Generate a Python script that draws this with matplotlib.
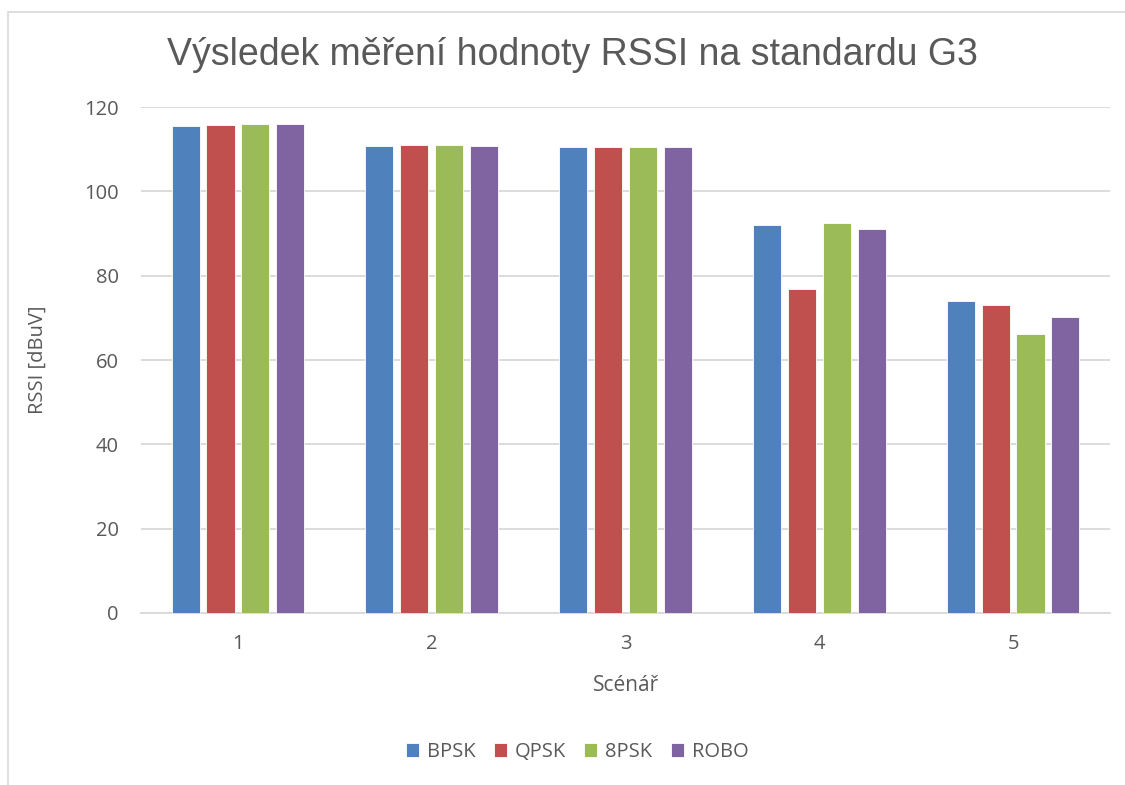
import numpy as np
import matplotlib
matplotlib.use("Agg")
import matplotlib.pyplot as plt
from matplotlib.patches import Rectangle

# Data
scenarios = ["1", "2", "3", "4", "5"]
series_names = ["BPSK", "QPSK", "8PSK", "ROBO"]
bpsk = [115.5, 110.8, 110.6, 92.1, 74.0]
qpsk = [115.7, 110.9, 110.6, 76.9, 73.1]
psk8 = [115.9, 110.9, 110.5, 92.4, 66.2]
robo = [116.0, 110.7, 110.5, 91.0, 70.1]
y_ticks = [0, 20, 40, 60, 80, 100, 120]

colors = ["#4F81BD", "#C0504D", "#9BBB59", "#8064A2"]
text_color = "#595959"
grid_color = "#D9D9D9"

plt.rcParams["font.family"] = ["Open Sans", "DejaVu Sans"]

fig = plt.figure(figsize=(11.25, 7.85), dpi=100)
ax = fig.add_axes([141 / 1125, 1 - 613 / 785, (1110 - 141) / 1125, (613 - 107) / 785])

# outer chart border
fig.patches.append(Rectangle((8 / 1125, -0.1), 1.2, 1.1 - 12 / 785, transform=fig.transFigure,
                             fill=False, edgecolor="#D9D9D9", linewidth=1.2))

x = np.arange(len(scenarios))
width = 0.145
step = 0.18
for i, (vals, name) in enumerate(zip([bpsk, qpsk, psk8, robo], series_names)):
    offs = (i - 1.5) * step
    ax.bar(x + offs, vals, width, color=colors[i], label=name, zorder=3,
           edgecolor="white", linewidth=0.6)

ax.set_xlim(-0.5, len(scenarios) - 0.5)
ax.set_ylim(0, 120)
ax.set_yticks(y_ticks)
ax.set_xticks(x)
ax.set_xticklabels(scenarios)
ax.grid(axis="y", color=grid_color, linewidth=1.3, zorder=0)
for s in ["top", "right", "left"]:
    ax.spines[s].set_visible(False)
ax.spines["bottom"].set_color(grid_color)
ax.spines["bottom"].set_linewidth(1.3)
ax.tick_params(axis="both", length=0, labelsize=14.5, colors=text_color)
ax.tick_params(axis="y", pad=16)
ax.tick_params(axis="x", pad=15)

ax.set_ylabel("RSSI [dBuV]", fontsize=14.5, color=text_color, labelpad=26)
ax.set_xlabel("Scénář", fontsize=15, color=text_color, labelpad=15)

fig.text(572 / 1125, 1 - 55 / 785, "Výsledek měření hodnoty RSSI na standardu G3",
         ha="center", va="center", fontsize=27, color=text_color,
         family=["Liberation Sans Narrow", "Liberation Sans", "DejaVu Sans"])

fig.legend(loc="center", bbox_to_anchor=(577 / 1125, 1 - 752 / 785), ncol=4,
           frameon=False, fontsize=14.5, labelcolor=text_color, handlelength=0.65,
           handleheight=0.65, columnspacing=0.9, handletextpad=0.4)

fig.savefig("out.png", dpi=100, facecolor="white")
